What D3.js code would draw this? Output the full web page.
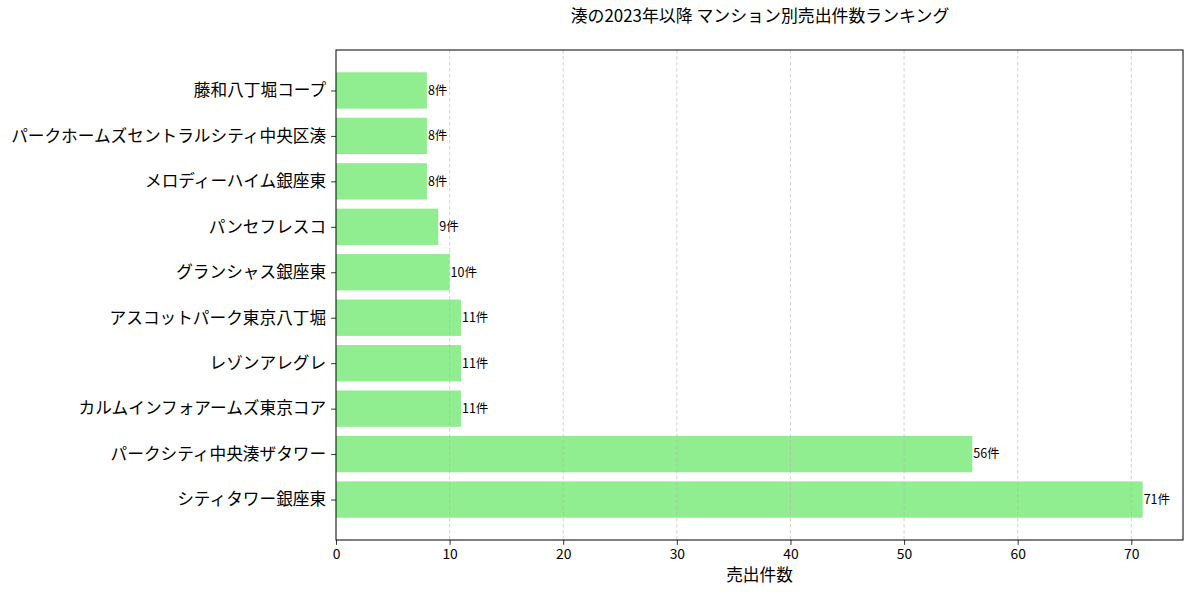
<!DOCTYPE html>
<html><head><meta charset="utf-8">
<script src="https://cdn.jsdelivr.net/npm/d3@7"></script>
<style>
body{margin:0;background:#fff;}
text{font-family:"Noto Sans CJK JP","Noto Sans",sans-serif;fill:#000;}
</style></head>
<body><svg id="c" width="1193" height="593"></svg>
<script>
const names = ["シティタワー銀座東","パークシティ中央湊ザタワー","カルムインフォアームズ東京コア","レゾンアレグレ","アスコットパーク東京八丁堀","グランシャス銀座東","パンセフレスコ","メロディーハイム銀座東","パークホームズセントラルシティ中央区湊","藤和八丁堀コープ"];
const counts = [71,56,11,11,11,10,9,8,8,8];
const xTicks = [0,10,20,30,40,50,60,70];
const title = "湊の2023年以降 マンション別売出件数ランキング";
const xLabel = "売出件数";

const L=336,R=1183,T=50,B=540;
const svg=d3.select("#c");
const x=d3.scaleLinear().domain([0,d3.max(counts)*1.05]).range([L,R]);
const n=names.length;
const pad=(n-1+0.8)*0.05;
const y=d3.scaleLinear().domain([-0.4-pad,n-1+0.4+pad]).range([B,T]);
const bh=0.8;

svg.append("g").selectAll("rect").data(counts).join("rect")
  .attr("x",x(0)).attr("y",(d,i)=>y(i+bh/2)).attr("width",d=>x(d)-x(0))
  .attr("height",(d,i)=>y(i-bh/2)-y(i+bh/2)).attr("fill","#90ee90");

// grid
svg.append("g").selectAll("line").data(xTicks.filter(t=>t>0)).join("line")
  .attr("x1",d=>x(d)).attr("x2",d=>x(d)).attr("y1",T).attr("y2",B)
  .attr("stroke","#b0b0b0").attr("stroke-opacity",0.7).attr("stroke-width",0.8).attr("stroke-dasharray","3.5,2.5");

// value labels
svg.append("g").selectAll("text").data(counts).join("text")
  .attr("x",d=>x(d)+1).attr("y",(d,i)=>y(i)).attr("dy","0.35em")
  .style("font-size","12.5px").text(d=>d+"件");

// x axis
const xa=svg.append("g").attr("transform",`translate(0,${B})`)
  .call(d3.axisBottom(x).tickValues(xTicks).tickSize(4.9).tickPadding(4));
xa.select(".domain").remove();
xa.selectAll("text").style("font-size","13.9px").style("font-family","'Noto Sans CJK JP'");
xa.selectAll("line").attr("stroke","#000").attr("stroke-width",0.8);

// y axis
const ya=svg.append("g").attr("transform",`translate(${L},0)`)
  .call(d3.axisLeft(y).tickValues(d3.range(n)).tickFormat(i=>names[i]).tickSize(4.9).tickPadding(5));
ya.select(".domain").remove();
ya.selectAll("text").style("font-size","16.67px").style("font-family","'Noto Sans CJK JP'");
ya.selectAll("line").attr("stroke","#000").attr("stroke-width",0.8);

// frame
svg.append("rect").attr("x",L).attr("y",T).attr("width",R-L).attr("height",B-T)
  .attr("fill","none").attr("stroke","#000").attr("stroke-width",1);

svg.append("text").attr("x",(L+R)/2+0.5).attr("y",22).attr("text-anchor","middle")
  .style("font-size","16.9px").text(title);
svg.append("text").attr("x",(L+R)/2).attr("y",581).attr("text-anchor","middle")
  .style("font-size","16.67px").text(xLabel);
</script></body></html>
